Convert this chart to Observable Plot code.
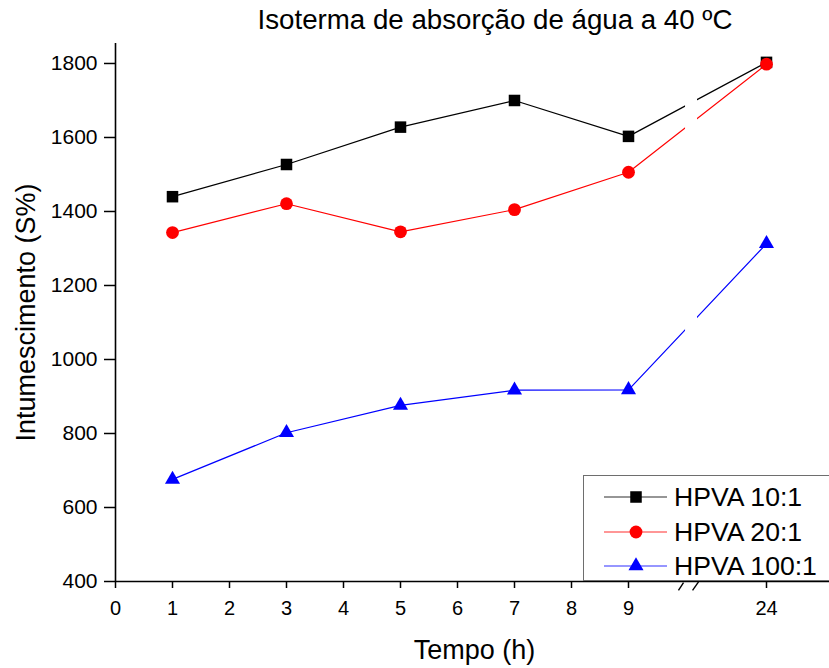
<!DOCTYPE html>
<html><head><meta charset="utf-8">
<script src="https://cdn.jsdelivr.net/npm/d3@7"></script>
<script src="https://cdn.jsdelivr.net/npm/@observablehq/plot@0.6"></script>
<style>
body{margin:0;background:#fff;font-family:"Liberation Sans",Arial,sans-serif;}
#wrap{position:relative;width:829px;height:668px;overflow:hidden;background:#fff;}
#title{position:absolute;top:3px;left:495px;transform:translateX(-50%);white-space:nowrap;font-size:27.7px;line-height:34px;color:#000;}
#chart{position:absolute;top:40px;left:0;}
#legend{position:absolute;left:583px;top:475px;width:270px;height:106px;border:1px solid #6e6e6e;background:#fff;box-sizing:border-box;}
</style></head><body>
<div id="wrap">
<div id="title">Isoterma de absorção de água a 40 ºC</div>
<div id="chart"></div>
<div id="legend"></div>
</div>
<script>
// ---- data ----
const hours = [1, 3, 5, 7, 9, 24];
const seriesNames = ["HPVA 10:1", "HPVA 20:1", "HPVA 100:1"];
const hpva10 = [1440, 1527, 1628, 1700, 1603, 1803];
const hpva20 = [1343, 1421, 1345, 1405, 1506, 1798];
const hpva100 = [676, 802, 876, 917, 918, 1313];
const xTicks = [0, 1, 2, 3, 4, 5, 6, 7, 8, 9, 24];
const yTicks = [400, 600, 800, 1000, 1200, 1400, 1600, 1800];
const xTitle = "Tempo (h)";
const yTitle = "Intumescimento (S%)";

const colors = ["#000000", "#ff0000", "#0000ff"];
const symbols = ["square", "circle", "triangle"];
const radii = [6.5, 6.4, 5.6];

const values = [hpva10, hpva20, hpva100];
const rows = [];
seriesNames.forEach((s, i) => hours.forEach((h, j) => rows.push({series: s, hour: h, value: values[i][j]})));

// axis break (in data units of the compressed 9–24 segment)
const gap = {x1: 15.2, x2: 16.5};
const breakMarks = [
  {x1: 14.43, x2: 14.98, y1: 376, y2: 397},
  {x1: 15.96, x2: 16.61, y1: 376, y2: 399}
];

const plot = Plot.plot({
  width: 829,
  height: 628,
  marginLeft: 115,
  marginRight: 0,
  marginTop: 3,
  marginBottom: 87,
  style: {fontFamily: "'Liberation Sans', Arial, sans-serif", color: "#000", background: "#fff", overflow: "visible"},
  x: {type: "linear", domain: [0, 9, 24], range: [115, 628, 766]},
  y: {domain: [400, 1854]},
  color: {domain: seriesNames, range: colors},
  symbol: {domain: seriesNames, range: symbols},
  marks: [
    Plot.line(rows, {x: "hour", y: "value", z: "series", stroke: "series", strokeWidth: 1.2}),
    Plot.rect([gap], {x1: "x1", x2: "x2", y1: 600, y2: 1854, fill: "#fff"}),
    ...seriesNames.map((s, i) => Plot.dot(rows.filter(d => d.series === s), {
      x: "hour", y: "value", symbol: "series", fill: "series", stroke: "none", r: radii[i]
    })),
    Plot.ruleY([400], {stroke: "#000", strokeWidth: 1.6}),
    Plot.ruleX([0], {stroke: "#000", strokeWidth: 1.6}),
    Plot.link(breakMarks, {x1: "x1", x2: "x2", y1: "y1", y2: "y2", stroke: "#000", strokeWidth: 1.4}),
    Plot.axisY({ticks: yTicks, tickSize: 11, tickPadding: 7, fontSize: 21, tickFormat: d => String(d), label: null, strokeWidth: 1.5}),
    Plot.axisX({ticks: xTicks, tickSize: 7, tickPadding: 12, fontSize: 20, tickFormat: d => String(d), label: null, strokeWidth: 1.5}),
    Plot.text([xTitle], {text: d => d, frameAnchor: "bottom", textAnchor: "middle", dx: 2, dy: 77, fontSize: 27}),
    Plot.text([yTitle], {text: d => d, frameAnchor: "left", textAnchor: "middle", rotate: -90, dx: -89, fontSize: 27})
  ]
});
document.getElementById("chart").appendChild(plot);

// legend
const lg = d3.select("#legend").append("svg").attr("width", 270).attr("height", 106);
const rowY = [21, 56, 90];
seriesNames.forEach((s, i) => {
  const g = lg.append("g").attr("transform", `translate(0,${rowY[i]})`);
  g.append("line").attr("x1", 20).attr("x2", 83).attr("y1", 0).attr("y2", 0)
    .attr("stroke", colors[i]).attr("stroke-opacity", 0.55).attr("stroke-width", 1.5);
  const sym = {square: d3.symbolSquare, circle: d3.symbolCircle, triangle: d3.symbolTriangle}[symbols[i]];
  g.append("path").attr("transform", "translate(52,0)")
    .attr("d", d3.symbol(sym, Math.PI * radii[i] * radii[i])()).attr("fill", colors[i]);
  g.append("text").attr("x", 90).attr("y", 9.4).attr("font-size", 26.6)
    .attr("font-family", "'Liberation Sans', Arial, sans-serif").attr("fill", "#000").text(s);
});
</script>
</body></html>
